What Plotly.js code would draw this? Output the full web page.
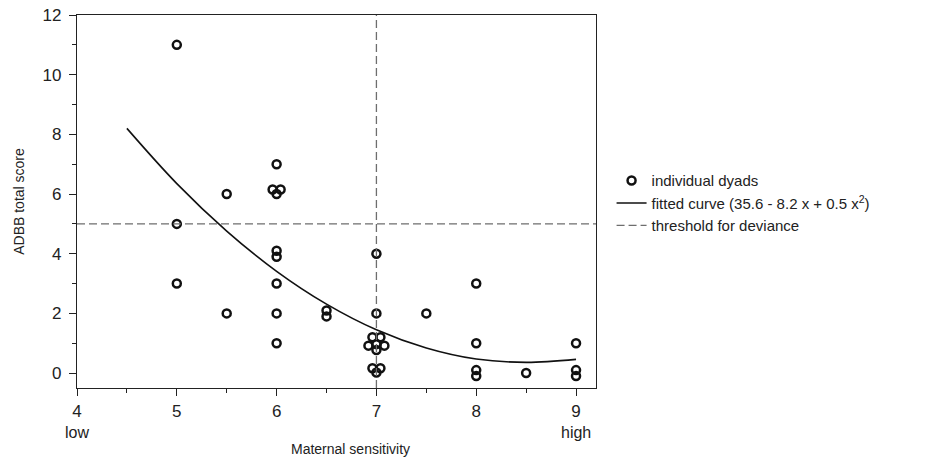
<!DOCTYPE html>
<html>
<head>
<meta charset="utf-8">
<script src="https://cdn.plot.ly/plotly-3.0.1.min.js"></script>
<style>
html,body{margin:0;padding:0;background:#fff;}
#chart{width:940px;height:461px;}
</style>
</head>
<body>
<div id="chart"></div>
<script>
// Individual dyads (maternal sensitivity, ADBB total score); small offsets reproduce the jitter in the figure
const dyadX = [5, 5, 5,
  5.5, 5.5,
  6, 5.96, 6.04, 6, 6, 6, 6, 6, 6,
  6.5, 6.5,
  7, 7, 6.96, 7.04, 6.92, 7.0, 7.08, 7.0, 6.96, 7.04, 7.0,
  7.5,
  8, 8, 8, 8,
  8.5,
  9, 9, 9];
const dyadY = [11, 5, 3,
  6, 2,
  7, 6.15, 6.15, 6.0, 4.1, 3.9, 3, 2, 1,
  2.1, 1.9,
  4, 2, 1.2, 1.2, 0.92, 0.97, 0.92, 0.77, 0.16, 0.16, 0.02,
  2,
  3, 1, 0.1, -0.1,
  0,
  1, 0.1, -0.1];

// Fitted curve
const curveX = [4.5, 5, 5.5, 6, 6.5, 7, 7.5, 8, 8.5, 9];
const curveY = [8.2, 6.35, 4.76, 3.41, 2.31, 1.45, 0.84, 0.47, 0.36, 0.46];

// Thresholds
const thresholdScore = 5;
const thresholdSensitivity = 7;

// Axis ranges and ticks
const xRange = [4, 9.2];
const yRange = [-0.5, 12];
const xTickVals = [4, 5, 6, 7, 8, 9];
const xTickText = ['4', '5', '6', '7', '8', '9'];
const xEndLabels = ['low', 'high'];
const yTickVals = [0, 2, 4, 6, 8, 10, 12];

const font = 'Liberation Sans, Arial, sans-serif';
const ink = '#222';
const dashGray = '#6e6e6e';

const traces = [
  {
    x: dyadX, y: dyadY, type: 'scatter', mode: 'markers',
    name: 'individual dyads',
    marker: {symbol: 'circle-open', size: 8, color: '#111', line: {width: 2.5, color: '#111'}},
    cliponaxis: false
  },
  {
    x: curveX, y: curveY, type: 'scatter', mode: 'lines',
    name: 'fitted curve (35.6 - 8.2 x + 0.5 x<sup>2</sup>)',
    line: {color: '#111', width: 1.6, shape: 'spline', smoothing: 1}
  },
  {
    x: xRange, y: [thresholdScore, thresholdScore], type: 'scatter', mode: 'lines',
    name: 'threshold for deviance',
    line: {color: dashGray, width: 1.3, dash: '8px,4px'}
  },
  {
    x: [thresholdSensitivity, thresholdSensitivity], y: yRange, type: 'scatter', mode: 'lines',
    showlegend: false,
    line: {color: dashGray, width: 1.3, dash: '8px,4px'}
  }
];

const layout = {
  width: 940, height: 461,
  margin: {l: 77, r: 344, t: 15, b: 73},
  paper_bgcolor: '#fff', plot_bgcolor: '#fff',
  font: {family: font, size: 14, color: ink},
  showlegend: true,
  legend: {
    x: 1.03, xanchor: 'left', y: 0.6, yanchor: 'top',
    font: {family: font, size: 15, color: ink},
    bgcolor: 'rgba(0,0,0,0)', itemwidth: 30, tracegroupgap: 0
  },
  xaxis: {
    range: xRange, showgrid: false, zeroline: false,
    showline: true, linecolor: ink, linewidth: 1.2, mirror: true,
    ticks: 'outside', ticklen: 7, tickwidth: 1, tickcolor: ink,
    tickvals: xTickVals, ticktext: xTickText,
    minor: {dtick: 0.5, tick0: 4, ticks: 'outside', ticklen: 4, tickcolor: ink, showgrid: false},
    tickfont: {family: font, size: 17, color: ink}
  },
  yaxis: {
    range: yRange, showgrid: false, zeroline: false,
    showline: true, linecolor: ink, linewidth: 1.2, mirror: true,
    ticks: 'outside', ticklen: 7, tickwidth: 1, tickcolor: ink,
    tickvals: yTickVals, ticklabelstandoff: 4,
    minor: {dtick: 1, tick0: 0, ticks: 'outside', ticklen: 4, tickcolor: ink, showgrid: false},
    tickfont: {family: font, size: 17, color: ink},
    title: {text: 'ADBB total score', font: {family: font, size: 14, color: ink}, standoff: 14}
  },
  annotations: [
    {text: 'Maternal sensitivity', xref: 'paper', yref: 'paper', x: 0.527, y: -0.163,
     xanchor: 'center', yanchor: 'middle', showarrow: false,
     font: {family: font, size: 14, color: ink}},
    {text: xEndLabels[0], xref: 'x', yref: 'paper', x: xTickVals[0], y: -0.118,
     xanchor: 'center', yanchor: 'middle', showarrow: false,
     font: {family: font, size: 16, color: ink}},
    {text: xEndLabels[1], xref: 'x', yref: 'paper', x: xTickVals[xTickVals.length - 1], y: -0.118,
     xanchor: 'center', yanchor: 'middle', showarrow: false,
     font: {family: font, size: 16, color: ink}}
  ]
};

Plotly.newPlot('chart', traces, layout, {displayModeBar: false, staticPlot: true});
</script>
</body>
</html>
